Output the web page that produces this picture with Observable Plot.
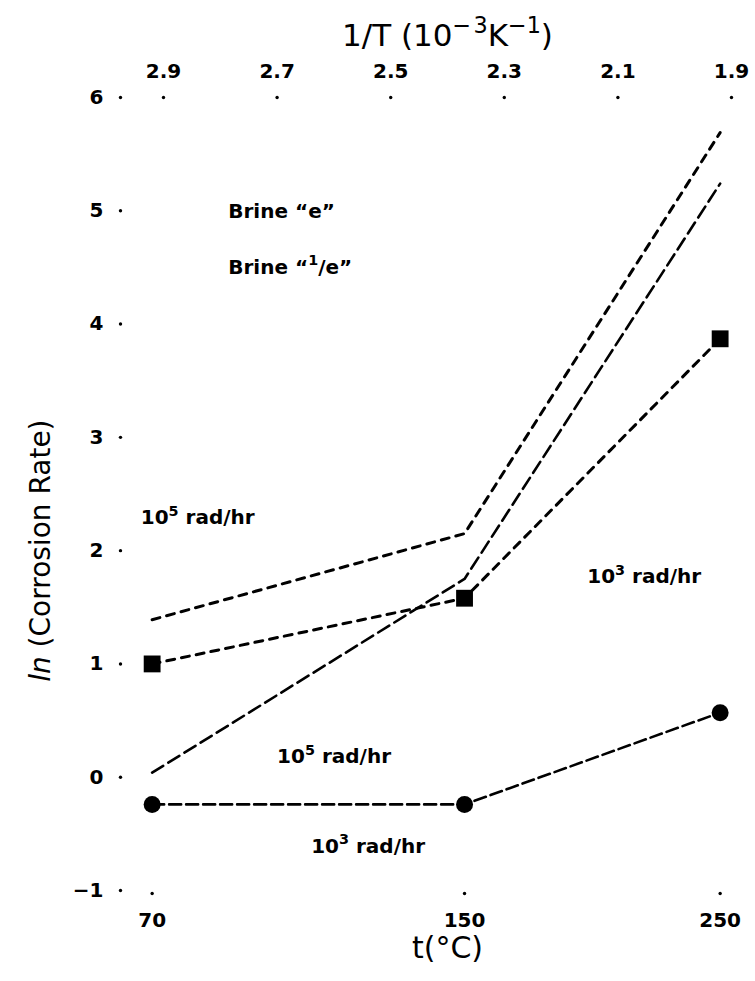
<!DOCTYPE html>
<html><head><meta charset="utf-8">
<script src="https://cdn.jsdelivr.net/npm/d3@7"></script>
<script src="https://cdn.jsdelivr.net/npm/@observablehq/plot@0.6"></script>
<style>body{margin:0;background:#fff}</style>
</head><body><div id="chart"></div>
<script>
// temperatures (bottom axis) and their 1/T positions (10^-3 K^-1)
const tempC = [70, 150, 250];
const invT = [2.92, 2.37, 1.92];
const topTicks = [2.9, 2.7, 2.5, 2.3, 2.1, 1.9];
const yTicks = [-1, 0, 1, 2, 3, 4, 5, 6];

// ln(corrosion rate) series
const brineE_1e3 = [1.00, 1.58, 3.87];    // Brine "e", 10^3 rad/hr (filled squares)
const brineE_1e5 = [1.39, 2.15, 5.69];    // Brine "e", 10^5 rad/hr
const brine1e_1e3 = [-0.24, -0.24, 0.57]; // Brine "1/e", 10^3 rad/hr (filled circles)
const brine1e_1e5 = [0.04, 1.75, 5.24];   // Brine "1/e", 10^5 rad/hr

// annotations (^{..} marks a superscript)
const annotText = ["Brine \u201Ce\u201D", "Brine \u201C^{1}/e\u201D", "10^{5} rad/hr", "10^{3} rad/hr", "10^{5} rad/hr", "10^{3} rad/hr"];
const annotX = [2.786, 2.786, 2.94, 2.154, 2.70, 2.64];
const annotY = [4.99, 4.50, 2.29, 1.77, 0.18, -0.61];

const titleTop = "1/T (10^{\u2212\u200A3}K^{\u22121})";
const titleBottom = "t(\u00B0C)";
const titleLeft = "ln (Corrosion Rate)";

const rows = v => tempC.map((t, i) => ({t, x: invT[i], y: v[i]}));
const annots = annotText.map((text, i) => ({text, x: annotX[i], y: annotY[i]}));

const font = "'DejaVu Sans', 'Liberation Sans', sans-serif";

const chart = Plot.plot({
  width: 755, height: 981,
  marginLeft: 163, marginRight: 24, marginTop: 97, marginBottom: 91,
  style: {fontFamily: font, background: "#fff", color: "#000"},
  x: {type: "linear", domain: [2.9, 1.9]},
  y: {domain: [-1, 6]},
  marks: [
    Plot.axisX(topTicks, {anchor: "top", tickSize: 0, tickPadding: 20, fontSize: 20, fontWeight: "bold", tickFormat: d3.format(".1f"), label: null}),
    Plot.axisX(invT, {anchor: "bottom", tickSize: 0, tickPadding: 22, fontSize: 20, fontWeight: "bold", tickFormat: d => tempC[invT.indexOf(d)], label: null}),
    Plot.axisY(yTicks, {anchor: "left", tickSize: 0, tickPadding: 60, fontSize: 20, fontWeight: "bold", tickFormat: d => d < 0 ? "\u2212" + Math.abs(d) : String(d), label: null}),
    Plot.dot(yTicks, {y: d => d, frameAnchor: "left", dx: -43, r: 1.7, fill: "black"}),
    Plot.dot(topTicks, {x: d => d, frameAnchor: "top", r: 1.7, fill: "black"}),
    Plot.dot(invT, {x: d => d, frameAnchor: "bottom", dy: 3, r: 1.7, fill: "black"}),
    Plot.text([titleTop], {frameAnchor: "top", dy: -74, fontSize: 31}),
    Plot.text([titleBottom], {frameAnchor: "bottom", dy: 67, fontSize: 30}),
    Plot.text([titleLeft], {x: () => 3.115, y: () => 2.0, rotate: -90, fontSize: 28}),
    Plot.line(rows(brineE_1e5), {x: "x", y: "y", stroke: "black", strokeWidth: 3, strokeDasharray: "8,7"}),
    Plot.line(rows(brineE_1e3), {x: "x", y: "y", stroke: "black", strokeWidth: 3, strokeDasharray: "8,7"}),
    Plot.line(rows(brine1e_1e5), {x: "x", y: "y", stroke: "black", strokeWidth: 2.6, strokeDasharray: "13,6"}),
    Plot.line(rows(brine1e_1e3), {x: "x", y: "y", stroke: "black", strokeWidth: 2.6, strokeDasharray: "12,5"}),
    Plot.dot(rows(brineE_1e3), {x: "x", y: "y", symbol: "square", fill: "black", r: 9.5}),
    Plot.dot(rows(brine1e_1e3), {x: "x", y: "y", symbol: "circle", fill: "black", r: 8.5}),
    Plot.text(annots, {x: "x", y: "y", text: "text", textAnchor: "start", fontSize: 20, fontWeight: "bold"})
  ]
});
document.getElementById("chart").appendChild(chart);

const ns = "http://www.w3.org/2000/svg";
// superscripts
for (const el of chart.querySelectorAll("text")) {
  const s = el.textContent;
  if (!s.includes("^{")) continue;
  const fs = parseFloat(getComputedStyle(el).fontSize) || 20;
  const parts = s.split(/\^\{([^}]*)\}/);
  el.textContent = "";
  let raised = false;
  parts.forEach((p, i) => {
    if (!p) { if (i % 2 === 1) {} else return; }
    const ts = document.createElementNS(ns, "tspan");
    ts.textContent = p;
    if (i % 2 === 1) {
      ts.setAttribute("font-size", (fs * 0.72).toFixed(1));
      ts.setAttribute("dy", (-fs * 0.42).toFixed(1));
      raised = true;
    } else if (raised) {
      ts.setAttribute("dy", (fs * 0.42).toFixed(1));
      raised = false;
    }
    el.appendChild(ts);
  });
}
// italic "ln" in the y-axis title
const yt = [...chart.querySelectorAll("text")].find(e => e.textContent === titleLeft);
if (yt) {
  yt.textContent = "";
  const a = document.createElementNS(ns, "tspan"); a.setAttribute("font-style", "italic"); a.textContent = "ln";
  const b = document.createElementNS(ns, "tspan"); b.textContent = " (Corrosion Rate)";
  yt.appendChild(a); yt.appendChild(b);
}
</script>
</body></html>
